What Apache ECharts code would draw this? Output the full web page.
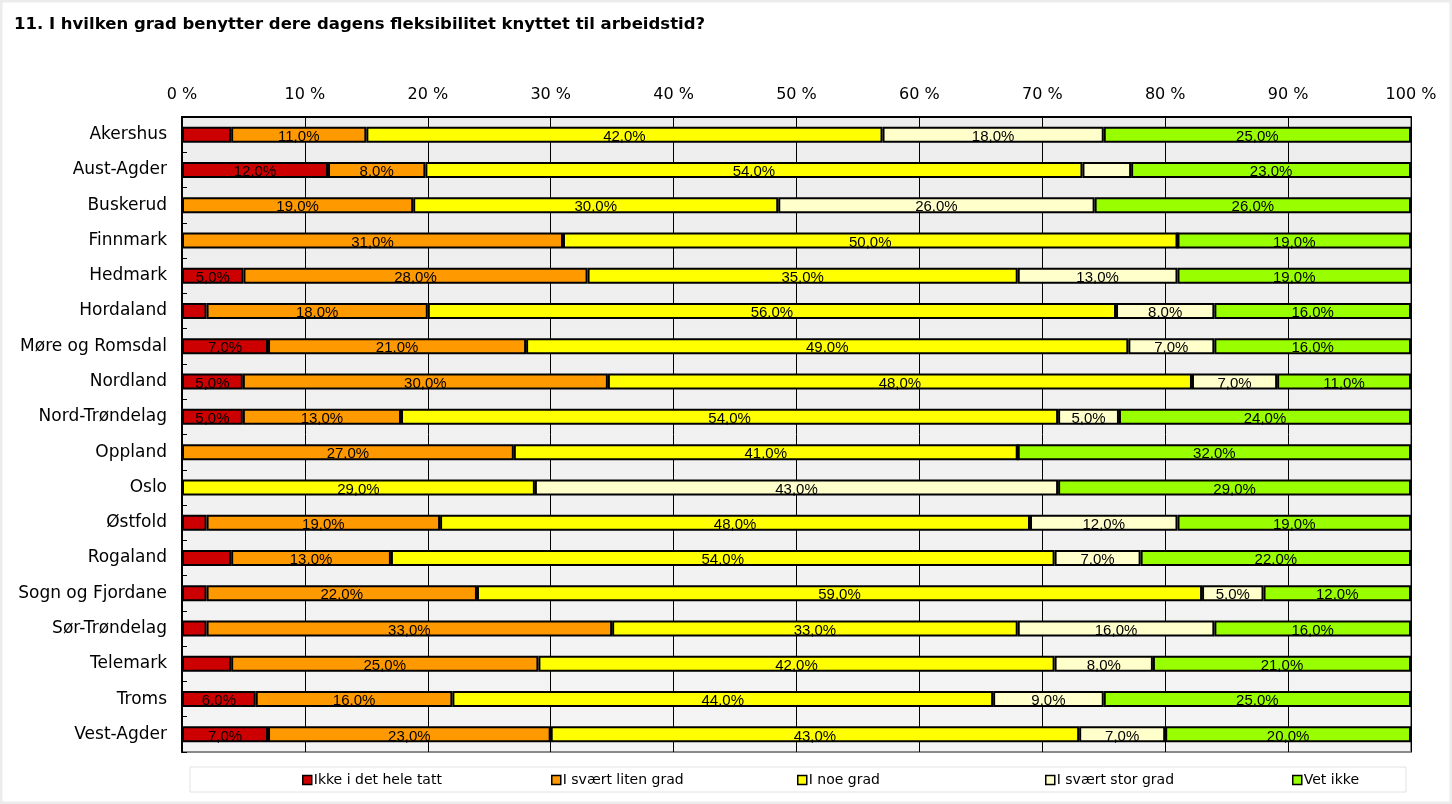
<!DOCTYPE html>
<html>
<head>
<meta charset="utf-8">
<script src="https://cdn.jsdelivr.net/npm/echarts@6/dist/echarts.min.js"></script>
<style>
html,body{margin:0;padding:0;background:#fff;}
#chart{width:1452px;height:804px;}
</style>
</head>
<body>
<div id="chart"></div>
<script>
const titleText = '11. I hvilken grad benytter dere dagens fleksibilitet knyttet til arbeidstid?';
const categories = ['Akershus','Aust-Agder','Buskerud','Finnmark','Hedmark','Hordaland','Møre og Romsdal','Nordland','Nord-Trøndelag','Oppland','Oslo','Østfold','Rogaland','Sogn og Fjordane','Sør-Trøndelag','Telemark','Troms','Vest-Agder'];
const seriesNames = ['Ikke i det hele tatt','I svært liten grad','I noe grad','I svært stor grad','Vet ikke'];
const seriesColors = ['#CC0000','#FF9900','#FFFF00','#FFFFCC','#99FF00'];
const ikkeIDetHeleTatt = [4,12,0,0,5,2,7,5,5,0,0,2,4,2,2,4,6,7];
const iSvaertLitenGrad = [11,8,19,31,28,18,21,30,13,27,0,19,13,22,33,25,16,23];
const iNoeGrad         = [42,54,30,50,35,56,49,48,54,41,29,48,54,59,33,42,44,43];
const iSvaertStorGrad  = [18,4,26,0,13,8,7,7,5,0,43,12,7,5,16,8,9,7];
const vetIkke          = [25,23,26,19,19,16,16,11,24,32,29,19,22,12,16,21,25,20];
const tickLabels = ['0 %','10 %','20 %','30 %','40 %','50 %','60 %','70 %','80 %','90 %','100 %'];

const allSeries = [ikkeIDetHeleTatt, iSvaertLitenGrad, iNoeGrad, iSvaertStorGrad, vetIkke];
const totals = categories.map((c, i) => allSeries.reduce((s, arr) => s + arr[i], 0));

const chart = echarts.init(document.getElementById('chart'), null, {renderer: 'canvas'});

const series = allSeries.map((arr, k) => ({
  name: seriesNames[k],
  type: 'bar',
  stack: 'total',
  barWidth: 16,
  itemStyle: {color: seriesColors[k], borderColor: '#000', borderWidth: 2},
  label: {
    show: true,
    position: 'inside',
    offset: [0, 2],
    color: '#000',
    fontSize: 15,
    fontFamily: '"Liberation Sans Narrow", "Liberation Sans", Arial, sans-serif',
    formatter: p => (p.data.raw >= 5 ? p.data.raw.toFixed(1).replace('.', ',') + '%' : '')
  },
  emphasis: {disabled: true},
  data: arr.map((v, i) => ({value: v / totals[i] * 100, raw: v}))
}));

const legendX = [302, 551, 797, 1045, 1292];
const legends = seriesNames.map((n, k) => ({
  data: [n],
  left: legendX[k],
  top: 773,
  itemWidth: 9,
  itemHeight: 9,
  itemGap: 0,
  padding: 0,
  icon: 'rect',
  itemStyle: {borderColor: '#000', borderWidth: 1.5},
  textStyle: {fontSize: 14, color: '#000', padding: [0, 0, 0, -3], fontFamily: '"DejaVu Sans", Verdana, sans-serif'},
  selectedMode: false
}));

chart.setOption({
  animation: false,
  backgroundColor: '#fff',
  title: {
    text: titleText,
    left: 14,
    top: 16,
    padding: 0,
    textStyle: {fontSize: 16.5, fontWeight: 'bold', color: '#000', fontFamily: '"DejaVu Sans", Verdana, sans-serif'}
  },
  legend: legends,
  grid: {
    left: 182, right: 41, top: 117, bottom: 52,
    show: true,
    backgroundColor: new echarts.graphic.LinearGradient(0, 0, 0, 1, [{offset: 0, color: '#EDEDED'}, {offset: 1, color: '#F4F4F4'}]),
    borderColor: '#8a8a8a',
    borderWidth: 2
  },
  xAxis: {
    type: 'value',
    position: 'top',
    min: 0, max: 100, interval: 10,
    axisLine: {show: true, lineStyle: {color: '#000', width: 2}},
    axisTick: {show: false},
    splitLine: {show: true, lineStyle: {color: '#000', width: 1}},
    axisLabel: {
      margin: 14,
      color: '#000',
      fontSize: 16,
      fontFamily: '"DejaVu Sans", Verdana, sans-serif',
      formatter: v => tickLabels[Math.round(v / 10)]
    }
  },
  yAxis: {
    type: 'category',
    inverse: true,
    data: categories,
    axisLine: {show: true, lineStyle: {color: '#000', width: 2}},
    axisTick: {show: true, inside: true, length: 5, lineStyle: {color: '#000'}},
    axisLabel: {
      margin: 15,
      color: '#000',
      fontSize: 17,
      padding: [3, 0, 0, 0],
      fontFamily: '"DejaVu Sans", Verdana, sans-serif'
    }
  },
  graphic: [
    {type: 'rect', silent: true, z: -1, shape: {x: 190, y: 767, width: 1216, height: 25}, style: {fill: '#fff', stroke: '#e2e2e2', lineWidth: 1}},
    {type: 'rect', silent: true, z: 100, shape: {x: 1, y: 1, width: 1450, height: 802}, style: {fill: 'none', stroke: '#ececec', lineWidth: 3}}
  ],
  series: series
});
</script>
</body>
</html>
